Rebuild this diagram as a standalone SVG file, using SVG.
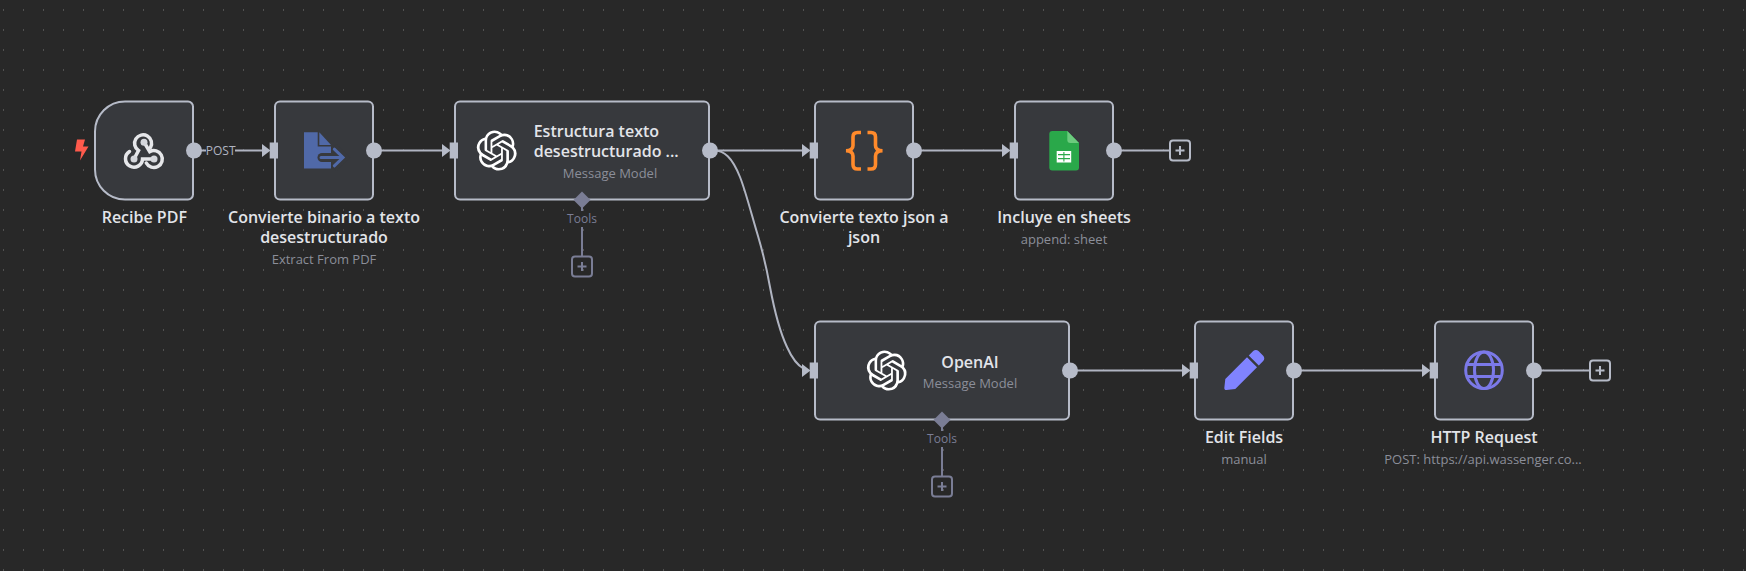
<svg xmlns="http://www.w3.org/2000/svg" width="1746" height="571" viewBox="0 0 1746 571">
<style>
text{font-family:"Open Sans","Liberation Sans",sans-serif;text-anchor:middle}
.box{fill:#37393d;stroke:#b6bbc8;stroke-width:2}
.name{font-size:16px;font-weight:600;fill:#e2e4e9}
.sub{font-size:13px;fill:#8b8e99}
.wire{fill:none;stroke:#b0b4c1;stroke-width:2}
.tool{fill:none;stroke:#7a7d95;stroke-width:2}
.head{fill:#b6bbc8}
.toolfill{fill:#7a7d95}
.plus{fill:none;stroke:#b6bbc8;stroke-width:2}
.plust{fill:none;stroke:#7a7d95;stroke-width:2}
.wl{font-size:12px;fill:#b0b4c1}
.tl{font-size:12px;fill:#7a7d95}
</style>
<defs>
<pattern id="grid" x="3" y="9" width="20" height="20" patternUnits="userSpaceOnUse"><rect width="1" height="2" fill="#525252"/></pattern>
<path id="oai" fill="#fff" d="M22.2819 9.8211a5.9847 5.9847 0 0 0-.5157-4.9108 6.0462 6.0462 0 0 0-6.5098-2.9A6.0651 6.0651 0 0 0 4.9807 4.1818a5.9847 5.9847 0 0 0-3.9977 2.9 6.0462 6.0462 0 0 0 .7427 7.0966 5.98 5.98 0 0 0 .511 4.9107 6.051 6.051 0 0 0 6.5146 2.9001A5.9847 5.9847 0 0 0 13.2599 24a6.0557 6.0557 0 0 0 5.7718-4.2058 5.9894 5.9894 0 0 0 3.9977-2.9001 6.0557 6.0557 0 0 0-.7475-7.0729zm-9.022 12.6081a4.4755 4.4755 0 0 1-2.8764-1.0408l.1419-.0804 4.7783-2.7582a.7948.7948 0 0 0 .3927-.6813v-6.7369l2.02 1.1686a.071.071 0 0 1 .038.052v5.5826a4.504 4.504 0 0 1-4.4945 4.4944zm-9.6607-4.1254a4.4708 4.4708 0 0 1-.5346-3.0137l.142.0852 4.783 2.7582a.7712.7712 0 0 0 .7806 0l5.8428-3.3685v2.3324a.0804.0804 0 0 1-.0332.0615L9.74 19.9502a4.4992 4.4992 0 0 1-6.1408-1.6464zM2.3408 7.8956a4.485 4.485 0 0 1 2.3655-1.9728V11.6a.7664.7664 0 0 0 .3879.6765l5.8144 3.3543-2.0201 1.1685a.0757.0757 0 0 1-.071 0l-4.8303-2.7865A4.504 4.504 0 0 1 2.3408 7.872zm16.5963 3.8558L13.1038 8.364 15.1192 7.2a.0757.0757 0 0 1 .071 0l4.8303 2.7913a4.4944 4.4944 0 0 1-.6765 8.1042v-5.6772a.79.79 0 0 0-.407-.667zm2.0107-3.0231l-.142-.0852-4.7735-2.7818a.7759.7759 0 0 0-.7854 0L9.409 9.2297V6.8974a.0662.0662 0 0 1 .0284-.0615l4.8303-2.7866a4.4992 4.4992 0 0 1 6.6802 4.66zM8.3065 12.863l-2.02-1.1638a.0804.0804 0 0 1-.038-.0567V6.0742a4.4992 4.4992 0 0 1 7.3757-3.4537l-.142.0805L8.704 5.459a.7948.7948 0 0 0-.3927.6813zm1.0976-2.3654l2.602-1.4998 2.6069 1.4998v2.9994l-2.5974 1.4997-2.6067-1.4997Z"/>
<g id="inp"><polygon class="head" points="-8,-6.500 0.500,0 -8,6.500"/><rect class="head" x="-0.300" y="-8" width="8.300" height="16"/></g>
</defs>
<rect width="1746" height="571" fill="#282828"/>
<rect width="1746" height="571" fill="url(#grid)"/>

<g id="connectors">
<path class="wire" d="M194 150.500H264"/>
<rect x="206" y="142" width="29" height="17" fill="#282828"/>
<text class="wl" x="220.700" y="155">POST</text>
<path class="wire" d="M374 150.500H444"/>
<path class="wire" d="M710 150.500H804"/>
<path class="wire" d="M714 150.500C724 150.500 732 157 740 177C746 192 753 220 758 236C763 253 767 270 770 287C773 303 778 328 787 347C791 356 797 365 804 369"/>
<path class="wire" d="M914 150.500H1004"/>
<path class="wire" d="M1114 150.500H1170"/>
<path class="wire" d="M1070 370.500H1184"/>
<path class="wire" d="M1294 370.500H1424"/>
<path class="wire" d="M1534 370.500H1590"/>
<path class="tool" d="M582 200.500V257"/>
<path class="tool" d="M942 420.500V477"/>
<rect x="565" y="211" width="34" height="16" fill="#282828"/>
<rect x="925" y="431" width="34" height="16" fill="#282828"/>
<text class="tl" x="582" y="223">Tools</text>
<text class="tl" x="942" y="443">Tools</text>
<g id="plus-1"><rect class="plus" x="1170" y="140.500" width="20" height="20" rx="3"/><path class="plus" d="M1175.500 150.500h9M1180 146v9"/></g>
<g id="plus-2"><rect class="plus" x="1590" y="360.500" width="20" height="20" rx="3"/><path class="plus" d="M1595.500 370.500h9M1600 366v9"/></g>
<g id="plus-3"><rect class="plust" x="572" y="256.500" width="20" height="20" rx="3"/><path class="plust" d="M577.500 266.500h9M582 262v9"/></g>
<g id="plus-4"><rect class="plust" x="932" y="476.500" width="20" height="20" rx="3"/><path class="plust" d="M937.500 486.500h9M942 482v9"/></g>
</g>

<g id="node-recibe">
<path fill="#ff5a4c" d="M77 139.500H85L83 146.500H88.500L80 160.500L81.500 151.500H75Z"/>
<path class="box" d="M125 101.500H188a5 5 0 0 1 5 5V194.500a5 5 0 0 1-5 5H125a30 30 0 0 1-30-30V131.500a30 30 0 0 1 30-30Z"/>
<g fill="none" stroke="#e6e7ea" stroke-width="3.500" stroke-linecap="round">
<path d="M134 159L138.500 150.500A8.500 8.500 0 1 1 150.500 147.500"/>
<path d="M154 159H142.500A8.500 8.500 0 1 1 129.500 151.500"/>
<path d="M144 142L149.700 151.600A8.500 8.500 0 1 1 146.300 163"/>
</g>
<g fill="#d5d7dc"><circle cx="144" cy="142.300" r="3.500"/><circle cx="134" cy="159" r="3.500"/><circle cx="154" cy="159" r="3.500"/></g>
<circle class="head" cx="194" cy="150.500" r="8"/>
<text class="name" x="144.300" y="223">Recibe PDF</text>
</g>

<g id="node-convierte-binario">
<rect class="box" x="275" y="101.500" width="98" height="98" rx="5"/>
<path fill="#5069a8" d="M304 132.300H317.700V146.500H331V168.500H304Z"/>
<path fill="#5069a8" d="M319.300 132.300L331 145H319.300Z"/>
<path d="M322 157.500H340" stroke="#37393d" stroke-width="9" stroke-linecap="round"/>
<path d="M334.300 146.500L346 157.500L334.300 168.500" fill="none" stroke="#37393d" stroke-width="6"/>
<path d="M321 157.500H342M334.300 149.200L343 157.500L334.300 165.800" fill="none" stroke="#5069a8" stroke-width="3" stroke-linecap="round"/>
<use href="#inp" x="270" y="150.500"/>
<circle class="head" cx="374" cy="150.500" r="8"/>
<text class="name" x="324" y="223">Convierte binario a texto</text>
<text class="name" x="324" y="243">desestructurado</text>
<text class="sub" x="324" y="264">Extract From PDF</text>
</g>

<g id="node-estructura">
<rect class="box" x="455" y="101.500" width="254" height="98" rx="5"/>
<use href="#oai" transform="translate(476.700 130.500) scale(1.667)"/>
<use href="#inp" x="450" y="150.500"/>
<circle class="head" cx="710" cy="150.500" r="8"/>
<polygon class="toolfill" points="582,191.500 590.500,200 582,208.500 573.500,200"/>
<text class="name" style="text-anchor:start" x="533.700" y="137">Estructura texto</text>
<text class="name" style="text-anchor:start" x="533.700" y="157">desestructurado ...</text>
<text class="sub" x="610" y="178">Message Model</text>
</g>

<g id="node-convierte-json">
<rect class="box" x="815" y="101.500" width="98" height="98" rx="5"/>
<g fill="none" stroke="#ff8a2b" stroke-width="3.600">
<path d="M861 132.500H857.500Q853 132.500 853 137V145.500Q853 150.500 846 150.700Q853 151 853 156V164.500Q853 169 857.500 169H861"/>
<path d="M867.500 132.500H871Q875.500 132.500 875.500 137V145.500Q875.500 150.500 882.500 150.700Q875.500 151 875.500 156V164.500Q875.500 169 871 169H867.500"/>
</g>
<use href="#inp" x="810" y="150.500"/>
<circle class="head" cx="914" cy="150.500" r="8"/>
<text class="name" x="864" y="223">Convierte texto json a</text>
<text class="name" x="864" y="243">json</text>
</g>

<g id="node-incluye">
<rect class="box" x="1015" y="101.500" width="98" height="98" rx="5"/>
<path fill="#2aa84a" d="M1052.300 131H1067.300L1079 143V167.500a3 3 0 0 1-3 3H1052.300a3 3 0 0 1-3-3V134a3 3 0 0 1 3-3Z"/>
<path fill="#6ccb7e" d="M1067.300 131L1079 143H1070.300a3 3 0 0 1-3-3Z"/>
<rect x="1056.700" y="151" width="14.500" height="11.500" fill="#fff"/>
<path d="M1058 154.600H1070M1058 158.600H1070M1063.900 152V161.500" stroke="#2aa84a" stroke-width="1.100" fill="none"/>
<use href="#inp" x="1010" y="150.500"/>
<circle class="head" cx="1114" cy="150.500" r="8"/>
<text class="name" x="1064" y="223">Incluye en sheets</text>
<text class="sub" x="1064" y="244">append: sheet</text>
</g>

<g id="node-openai">
<rect class="box" x="815" y="321.500" width="254" height="98" rx="5"/>
<use href="#oai" transform="translate(866.700 350.500) scale(1.667)"/>
<use href="#inp" x="810" y="370.500"/>
<circle class="head" cx="1070" cy="370.500" r="8"/>
<polygon class="toolfill" points="942,411.500 950.500,420 942,428.500 933.500,420"/>
<text class="name" x="970" y="367.500">OpenAI</text>
<text class="sub" x="970" y="388">Message Model</text>
</g>

<g id="node-edit">
<rect class="box" x="1195" y="321.500" width="98" height="98" rx="5"/>
<path fill="#8083ff" transform="translate(1224.300 350) scale(.0781)" d="M290.740 93.240l128.020 128.020-277.990 277.990-114.140 12.600C11.350 513.540-1.560 500.620.140 485.340l12.700-114.220 277.900-277.880zm207.200-19.060l-60.110-60.110c-18.750-18.750-49.160-18.750-67.910 0l-56.550 56.550 128.020 128.020 56.550-56.550c18.750-18.760 18.750-49.160 0-67.910z"/>
<use href="#inp" x="1190" y="370.500"/>
<circle class="head" cx="1294" cy="370.500" r="8"/>
<text class="name" x="1244" y="443">Edit Fields</text>
<text class="sub" x="1244" y="464">manual</text>
</g>

<g id="node-http">
<rect class="box" x="1435" y="321.500" width="98" height="98" rx="5"/>
<g fill="none" stroke="#7b79e8" stroke-width="3">
<circle cx="1484" cy="370.300" r="18.300"/>
<ellipse cx="1484" cy="370.300" rx="9.500" ry="18.300"/>
<path d="M1467 364.500H1501M1467 376.500H1501"/>
</g>
<use href="#inp" x="1430" y="370.500"/>
<circle class="head" cx="1534" cy="370.500" r="8"/>
<text class="name" x="1484" y="443">HTTP Request</text>
<text class="sub" x="1483" y="464">POST: https://api.wassenger.co...</text>
</g>
</svg>
